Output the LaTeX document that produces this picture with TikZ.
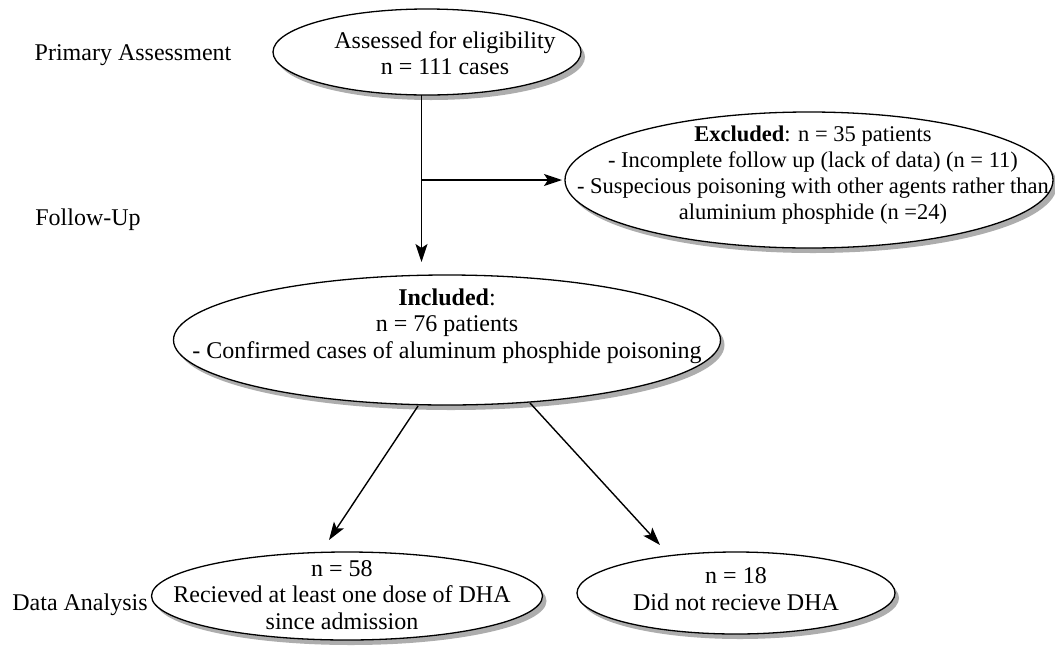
\documentclass[tikz,border=0pt]{standalone}
\usepackage{fontspec}
\setmainfont{Liberation Serif}
\usetikzlibrary{shapes.geometric,shadows,arrows.meta}
\begin{document}
\begin{tikzpicture}[x=1pt,y=-1pt,
  oval/.style={ellipse,draw,line width=1.3pt,fill=white,inner sep=0pt,
    drop shadow={shadow xshift=4pt,shadow yshift=-5pt,fill=black!32,opacity=1}},
  txt/.style={align=center,inner sep=0pt,font=\fontsize{24}{26.5}\selectfont},
  txts/.style={align=center,inner sep=0pt,font=\fontsize{22.5}{26}\selectfont},
  arr/.style={line width=1.4pt,-{Stealth[length=18pt,width=12pt,inset=4pt]}}]
\useasboundingbox (0,0) rectangle (1055,646);
\fill[white] (0,0) rectangle (1055,646);
% ellipses
\node[oval,minimum width=308pt,minimum height=86pt] (e1) at (427,52) {};
\node[oval,minimum width=488pt,minimum height=136pt] (e2) at (809,180) {};
\node[oval,minimum width=547pt,minimum height=130pt] (e3) at (447,340) {};
\node[oval,minimum width=391pt,minimum height=88pt] (e4) at (347,596) {};
\node[oval,minimum width=318pt,minimum height=82pt] (e5) at (736,593) {};
% texts
\node[txt] (t1) at (445,53) {Assessed for eligibility\\n = 111 cases};
\node[txts] (t2) at (813,175) {\textbf{Excluded}: n = 35 patients\\- Incomplete follow up (lack of data) (n = 11)\\- Suspecious poisoning with other agents rather than\\aluminium phosphide (n =24)};
\node[txt] (t3) at (447,326) {\textbf{Included}:\\n = 76 patients\\- Confirmed cases of aluminum phosphide poisoning};
\node[txt] (t4) at (342,595) {n = 58\\Recieved at least one dose of DHA\\since admission};
\node[txt] (t5) at (736,589) {n = 18\\Did not recieve DHA};
% stage labels
\node[txt] (l1) at (133,55) {Primary Assessment};
\node[txt] (l2) at (88,220) {Follow-Up};
\node[txt] (l3) at (80,605) {Data Analysis};
% connectors
\coordinate (vend) at (421.5,262);
\coordinate (vstart) at (421.5,95);
\coordinate (br) at (421.5,180);
\coordinate (hend) at (562,180);
\coordinate (d1s) at (418,406);
\coordinate (d1e) at (329,540);
\coordinate (d2s) at (530,403);
\coordinate (d2e) at (660,545);
\draw[arr] (vstart) -- (vend);
\draw[arr] (br) -- (hend);
\draw[arr] (d1s) -- (d1e);
\draw[arr] (d2s) -- (d2e);
\end{tikzpicture}
\end{document}
